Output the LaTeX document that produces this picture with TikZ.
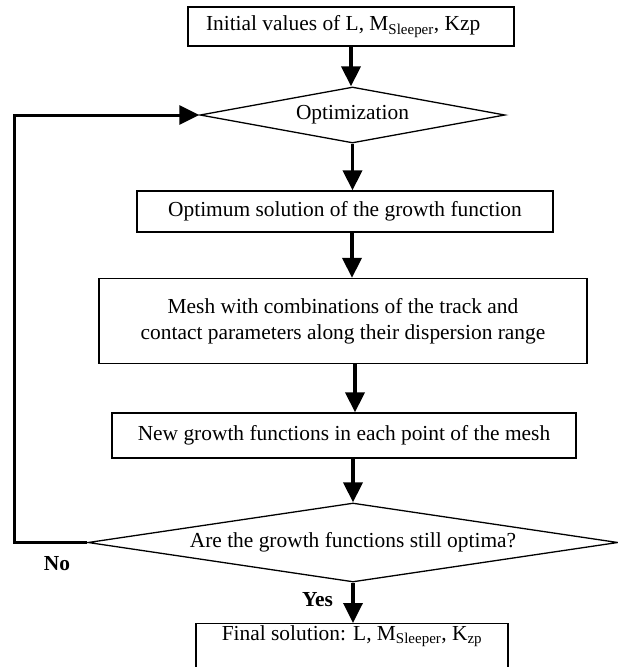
\documentclass[tikz,border=0pt]{standalone}
\usepackage{fontspec}
\setmainfont{Liberation Serif}
\usetikzlibrary{shapes.geometric,arrows.meta}
\tikzset{
    procbox/.style={
        draw,
        line width=1.3pt,
        inner sep=0pt,
        align=center
    },
    decision/.style={
        diamond,
        draw,
        line width=1.3pt,
        aspect=8,
        inner sep=0pt
    },
    % thick arrow between the steps
    flowarrow/.style={
        line width=3.5pt,
        black,
        -{Triangle[length=20pt, width=19pt]}
    },
    loopline/.style={
        line width=3pt,
        black,
        -{Triangle[length=20pt, width=19pt]}
    }
}

\begin{document}
\begin{tikzpicture}[x=1pt,y=-1pt,font=\fontsize{21.4}{26}\selectfont]
	\useasboundingbox (0,0) rectangle (618,667);
	\clip (0,0) rectangle (618,667);
	
	% boxes
	\node[procbox, text width=290pt, inner xsep=18pt, minimum height=39pt, align=flush left] (init) at (351,26.5) {Initial values of L, M\textsubscript{Sleeper}, Kzp};
	\node[decision, minimum width=305pt, minimum height=56pt] (opt) at (352.5,115) {Optimization};
	\node[procbox, minimum width=416pt, minimum height=41pt] (optimum) at (345,211.5) {Optimum solution of the growth function};
	\node[procbox, minimum width=488pt, minimum height=85pt] (mesh) at (343,321) {Mesh with combinations of the track and\\contact parameters along their dispersion range};
	\node[procbox, minimum width=464pt, minimum height=45pt] (newfun) at (344,435.5) {New growth functions in each point of the mesh};
	\node[decision, minimum width=530pt, minimum height=79pt] (check) at (353,542.5) {Are the growth functions still optima?};
	\node[procbox, minimum width=312pt, anchor=north, inner ysep=3pt, text height=14pt, text depth=35pt] (final) at (352,623) {Final solution: L, M\textsubscript{Sleeper}, K\textsubscript{zp}};
	
	% arrows
	\draw[flowarrow] (init.south) -- (init.south |- opt.north);
	\draw[flowarrow] (opt.south) -- (opt.south |- optimum.north);
	\draw[flowarrow] ([xshift=7pt]optimum.south) -- ([xshift=7pt]optimum.south |- mesh.north);
	\draw[flowarrow] ([xshift=12pt]mesh.south) -- ([xshift=12pt]mesh.south |- newfun.north);
	\draw[flowarrow] (check.north |- newfun.south) -- (check.north);
	\draw[flowarrow] (check.south) -- (check.south |- final.north);
	
	% back to the optimization
	\coordinate (loopcorner) at (14,542.5);
	\draw[loopline] (check.west) -- (loopcorner) |- (opt.west);
	
	% labels
	\node (nolabel) at (57,564) {\textbf{No}};
	\node (yeslabel) at (317.5,600) {\textbf{Yes}};
\end{tikzpicture}
\end{document}
